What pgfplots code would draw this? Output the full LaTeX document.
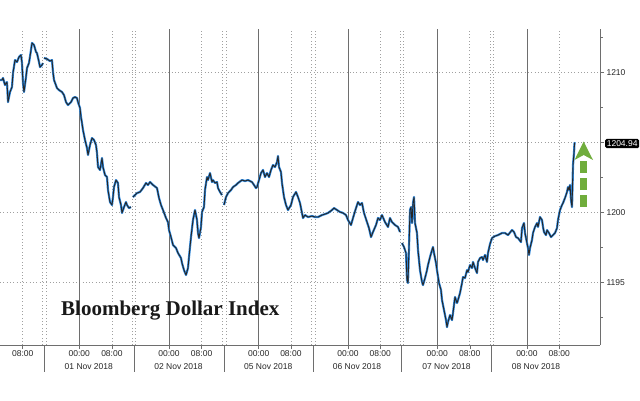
\documentclass[border=0pt]{standalone}
\usepackage{pgfplots}
\usepackage{pgfplotstable}
\pgfplotsset{compat=1.18}
\usepackage{fontspec}
\setmainfont{Liberation Sans}
\newfontfamily\titlefont{Liberation Serif}
\definecolor{bblue}{RGB}{45,135,220}
\definecolor{gridgray}{RGB}{160,160,160}
\definecolor{axgray}{RGB}{110,110,110}
\definecolor{arrowgreen}{RGB}{112,173,60}

\pgfplotstableread{
x y
0 1209.48
2 1209.48
3 1209.62
5 1209.12
7 1209.33
8 1207.90
10 1208.62
12 1208.98
13 1209.98
15 1210.90
17 1210.76
19 1211.12
21 1211.26
22 1210.69
23 1209.26
24 1208.62
26 1209.69
27 1210.33
29 1210.69
31 1211.62
32 1212.12
34 1211.98
36 1211.48
37 1211.40
39 1210.76
40 1210.40
42 1210.55
43 1210.69
43.5 nan
44 1211.05
47 1210.98
50 1210.83
52 1210.90
53 1210.05
54 1209.48
57 1208.90
59 1208.76
62 1208.62
64 1208.40
66 1207.90
68 1207.69
71 1207.90
73 1208.19
75 1208.26
77 1208.19
78 1207.90
80 1207.48
81 1206.83
82 1206.40
83 1205.90
85 1205.19
87 1204.62
88 1204.12
90 1204.83
92 1205.33
94 1205.19
96 1204.83
97 1204.26
98 1203.26
100 1203.05
102 1203.90
103 1203.26
105 1202.69
107 1202.55
108 1201.62
110 1200.76
112 1200.55
113 1201.12
114 1201.83
116 1202.33
118 1202.12
119 1201.12
121 1200.55
122 1199.98
124 1200.40
126 1200.76
127 1200.55
129 1200.33
131 1200.40
132 nan
133 1201.12
137 1201.40
140 1201.48
143 1201.76
146 1202.12
148 1201.98
150 1202.19
153 1201.98
157 1201.76
159 1201.05
161 1200.55
163 1200.19
166 1199.62
168 1199.33
169 1198.76
171 1198.26
173 1197.69
176 1197.48
178 1197.12
181 1196.76
182 1196.40
184 1195.90
186 1195.55
188 1196.05
189 1196.83
191 1198.26
193 1199.48
195 1200.19
197 1199.48
198 1198.55
199 1198.19
201 1198.98
202 1200.05
204 1200.40
205 1201.62
207 1202.55
208 1202.33
210 1202.83
212 1202.19
213 1202.33
215 1202.12
217 1202.19
218 1201.76
220 1201.48
222 1201.26
223 nan
224 1200.55
226 1201.12
228 1201.40
231 1201.62
233 1201.83
236 1201.98
238 1202.12
242 1202.33
245 1202.26
248 1202.33
252 1202.19
254 1201.98
256 1201.76
257 1201.83
259 1202.33
261 1202.83
263 1203.05
265 1202.55
267 1202.83
269 1202.55
271 1203.05
273 1203.40
275 1203.26
277 1203.62
278 1204.05
279 1203.26
281 1202.90
282 1202.12
284 1201.12
286 1200.55
288 1200.19
291 1200.55
293 1201.12
296 1201.48
298 1201.12
300 1200.69
302 1199.98
303 1199.62
305 1199.83
308 1199.69
312 1199.76
315 1199.69
318 1199.69
322 1199.83
325 1199.90
328 1199.98
332 1200.19
334 1200.33
337 1200.19
340 1200.05
343 1199.98
346 1199.83
348 1199.48
351 1199.12
353 1199.62
356 1200.33
358 1200.76
360 1200.55
362 1200.69
364 1199.98
367 1199.33
369 1198.90
371 1198.26
373 1198.62
376 1199.12
378 1199.62
380 1199.48
382 1199.83
385 1199.33
388 1198.98
390 1199.62
392 1199.33
395 1199.12
398 1198.98
400 1198.62
401 nan
402 1197.83
404 1197.55
406 1197.12
407 1195.19
408 1194.98
409 1197.55
410 1200.19
411 1200.40
412 1199.26
413 1200.69
414 1201.12
415 1199.26
417 1198.55
418 1197.33
420 1195.90
422 1195.05
423 1194.83
425 1195.33
427 1195.90
428 1196.26
430 1196.83
432 1197.33
433 1197.55
434 1197.12
436 1196.40
437 1195.90
439 1194.98
441 1194.48
442 1193.76
444 1193.05
446 1192.33
447 1191.83
448 1192.19
450 1192.69
452 1192.33
453 1192.83
455 1193.98
457 1193.55
458 1193.76
460 1194.26
462 1194.98
463 1195.40
465 1195.33
467 1195.90
468 1195.76
470 1196.26
472 1196.05
473 1196.48
475 1196.05
477 1195.69
478 1196.48
480 1196.76
482 1196.83
483 1196.62
485 1196.98
487 1196.48
488 1197.12
490 1197.76
492 1198.19
495 1198.33
498 1198.40
502 1198.55
505 1198.55
508 1198.40
512 1198.76
514 1198.62
516 1198.26
518 1198.19
521 1197.90
522 1198.90
524 1199.26
525 1198.55
527 1197.83
528 1197.48
529 1196.98
530 1197.48
532 1198.05
533 1198.55
535 1198.98
537 1199.26
538 1198.98
540 1199.69
542 1199.48
543 1198.98
544 1198.62
546 1198.40
547 1198.76
549 1198.55
551 1198.26
553 1198.40
555 1198.55
557 1198.90
558 1199.48
560 1200.19
562 1200.55
563 1200.69
565 1201.05
567 1201.48
568 1201.83
569 1201.62
570 1201.98
571 1200.90
572 1200.40
572.5 1201.83
573 1203.40
574 1204.26
574.5 1204.98
575 1204.94
}\dollar

\begin{document}
\begin{tikzpicture}[x=1pt,y=1pt]
\useasboundingbox (0pt,0pt) rectangle (640pt,400pt);
\begin{axis}[
  at={(0pt,55pt)}, anchor=south west,
  scale only axis, width=600pt, height=316pt,
  xmin=0, xmax=600, ymin=1190.55, ymax=1213.12,
  clip=false,
  axis x line=bottom, axis y line=right,
  axis line style={-, draw=axgray, line width=0.8pt},
  tick align=outside,
  major tick length=4pt, minor tick length=2.5pt,
  tick style={draw=axgray, line width=0.6pt},
  xtick={22.7,111.9,201.6,290.9,380.2,469.8,559.3},
  xticklabels={08:00,08:00,08:00,08:00,08:00,08:00,08:00},
  extra x ticks={79.3,169,258.7,348,437.3,526.9},
  extra x tick labels={00:00,00:00,00:00,00:00,00:00,00:00},
  extra x tick style={grid=major, major grid style={solid, draw=axgray, line width=0.6pt}},
  minor xtick={42.7,46,132.1,135.7,222.7,226,311.7,315,400,403.3,490,493.3},
  minor x tick style={draw=none},
  xmajorgrids, xminorgrids, ymajorgrids,
  major grid style={draw=gridgray, line width=0.8pt, dash pattern=on 0.9pt off 2.4pt},
  minor grid style={draw=gridgray, line width=0.8pt, dash pattern=on 0.9pt off 2.4pt},
  ytick={1195,1200,1205,1210},
  yticklabels={1195,1200,,1210},
  minor ytick={1192.5,1197.5,1202.5,1207.5,1212.5},
  xticklabel style={font=\fontsize{8.5}{9}\selectfont, text=black!85, yshift=1.5pt},
  yticklabel style={font=\fontsize{8.5}{9}\selectfont, text=black!85, xshift=-1pt},
  unbounded coords=jump,
]
\addplot[bblue, line width=2.2pt, line join=round] table[x=x,y=y] {\dollar};
\addplot[black!85, line width=0.9pt, line join=round] table[x=x,y=y] {\dollar};

% day separators below the axis
\pgfplotsinvokeforeach{44.3,133.9,224.3,313.3,401.7,491.7}{
  \draw[axgray, line width=0.7pt] (axis cs:#1,1190.55) -- ([yshift=-27pt]axis cs:#1,1190.55);
}
\node[font=\fontsize{8.5}{9}\selectfont, text=black!85] at ([yshift=-22pt]axis cs:88.8,1190.55) {01 Nov 2018};
\node[font=\fontsize{8.5}{9}\selectfont, text=black!85] at ([yshift=-22pt]axis cs:178.5,1190.55) {02 Nov 2018};
\node[font=\fontsize{8.5}{9}\selectfont, text=black!85] at ([yshift=-22pt]axis cs:268.2,1190.55) {05 Nov 2018};
\node[font=\fontsize{8.5}{9}\selectfont, text=black!85] at ([yshift=-22pt]axis cs:357,1190.55) {06 Nov 2018};
\node[font=\fontsize{8.5}{9}\selectfont, text=black!85] at ([yshift=-22pt]axis cs:446.5,1190.55) {07 Nov 2018};
\node[font=\fontsize{8.5}{9}\selectfont, text=black!85] at ([yshift=-22pt]axis cs:536,1190.55) {08 Nov 2018};

% last price label
\node[fill=black, text=white, rounded corners=1.5pt, inner sep=1.6pt, anchor=west,
      font=\fontsize{8.5}{9}\selectfont] at ([xshift=5pt]axis cs:600,1204.94) {1204.94};
\end{axis}
% title
\node[anchor=base west, inner sep=0pt, text=black!90,
      font=\titlefont\bfseries\fontsize{21}{24}\selectfont] at (61pt,85pt) {Bloomberg Dollar Index};
% green arrow
\draw[arrowgreen, line width=6.5pt, dash pattern=on 12pt off 5pt] (583.7pt,193.3pt) -- (583.7pt,243pt);
\fill[arrowgreen] (574.5pt,240pt) -- (583.7pt,258.5pt) -- (593pt,240pt) -- (583.7pt,245pt) -- cycle;
\end{tikzpicture}
\end{document}
